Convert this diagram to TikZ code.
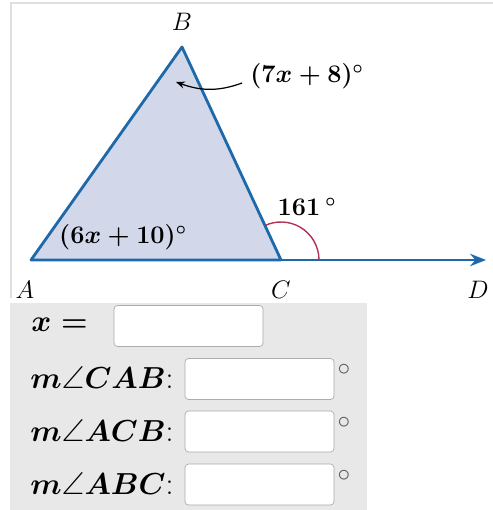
\documentclass[tikz,border=0pt]{standalone}
\usepackage{amsmath,amssymb}
\usetikzlibrary{arrows.meta}
\definecolor{edgeblue}{RGB}{30,105,170}
\definecolor{fillblue}{RGB}{210,216,234}
\definecolor{arcred}{RGB}{180,50,85}
\definecolor{panelgray}{RGB}{232,232,232}
\tikzset{
  vlabel/.style={font=\fontsize{15.5}{18}\selectfont},
  alabel/.style={font=\fontsize{14.8}{17}\selectfont\boldmath},
  qlabel/.style={font=\fontsize{18}{21}\selectfont\boldmath,anchor=west,inner sep=0pt},
  ansbox/.style={draw=gray!65,fill=white,rounded corners=2pt,minimum width=2.98cm,minimum height=0.82cm,inner sep=0pt},
  degmark/.style={font=\fontsize{14}{16}\selectfont,text=gray!70!black}
}
\begin{document}
\begin{tikzpicture}[x=0.02cm,y=0.02cm]
  \useasboundingbox (0,0) rectangle (493,510);
  % frame round the figure
  \draw[gray!25,line width=0.8pt] (11,212) -- (11,507) -- (493,507);

  % triangle and ray
  \coordinate (A) at (31,250);
  \coordinate (B) at (182,463);
  \coordinate (C) at (281,250);
  \coordinate (D) at (486,250);
  \fill[fillblue] (A) -- (B) -- (C) -- cycle;
  \draw[edgeblue,line width=1.6pt,line join=round] (C) -- (A) -- (B) -- (C);
  \draw[edgeblue,line width=1.6pt,-{Stealth[length=9pt,width=7pt]}] (C) -- (D);
  \draw[arcred,line width=0.8pt] (C) ++(0:38) arc (0:115:38);

  \node[vlabel] (labA) at (25,220) {$A$};
  \node[vlabel] (labB) at (182,488) {$B$};
  \node[vlabel] (labC) at (281,220) {$C$};
  \node[vlabel] (labD) at (478,220) {$D$};

  \node[alabel] (angB) at (307,434) {$(7x+8)^{\circ}$};
  \node[alabel] (angC) at (307,303) {$161\,^{\circ}$};
  \node[alabel] (angA) at (123,273) {$(6x+10)^{\circ}$};
  \coordinate (tipB) at (176,428);
  \draw[-{Stealth[length=5pt,width=4pt]},line width=0.7pt] (angB.west) ++(-2,-7) coordinate (startB) to[out=200,in=-20] (tipB);

  % answer panel
  \fill[panelgray] (10,0) rectangle (367,207);
  \node[qlabel] (qx) at (31,185) {$x=$};
  \node[qlabel] (qA) at (30,132) {$m\angle CAB$:};
  \node[qlabel] (qC) at (30,79) {$m\angle ACB$:};
  \node[qlabel] (qB) at (30,26) {$m\angle ABC$:};
  \node[ansbox] (xbox) at (188.5,184) {};
  \foreach \y/\n in {131/boxA,78.5/boxC,25.5/boxB}{
    \node[ansbox] (\n) at (259.5,\y) {};
    \node[degmark] at (344,\y+9) {$\circ$};
  }
\end{tikzpicture}
\end{document}
